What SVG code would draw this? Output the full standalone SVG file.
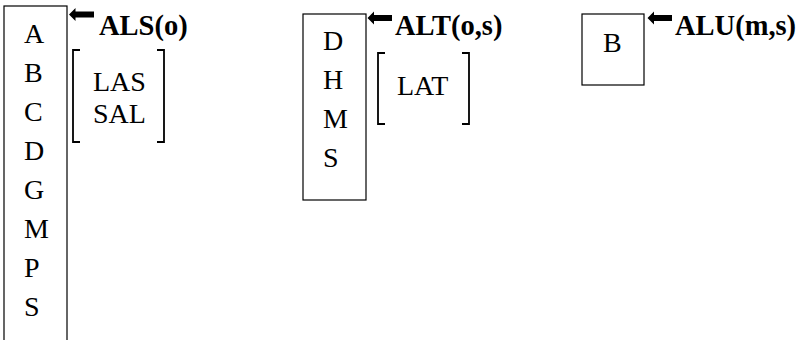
<svg xmlns="http://www.w3.org/2000/svg" width="803" height="340" viewBox="0 0 803 340">
<style>
.box{fill:none;stroke:#000;stroke-width:1.2}
.br{fill:none;stroke:#000;stroke-width:1.8}
text{font-family:'Liberation Serif','Times New Roman',serif;fill:#000}
.t{font-size:28px}
.s{font-size:28px}
.b{font-size:28.5px;font-weight:bold}
.ar{fill:#000}
</style>
<rect width="803" height="340" fill="#fff"/>
<g id="node-als">
<rect class="box" x="4" y="6" width="63" height="345"/>
<text class="t" x="24" y="43">A</text>
<text class="t" x="24" y="82">B</text>
<text class="t" x="24" y="121">C</text>
<text class="t" x="24" y="160">D</text>
<text class="t" x="24" y="199">G</text>
<text class="t" x="24" y="238">M</text>
<text class="t" x="24" y="277">P</text>
<text class="t" x="24" y="316">S</text>
</g>
<g id="label-als">
<text class="b" x="99" y="35">ALS(o)</text>
<path class="br" d="M80,50 H73 V142 H80 M157,50 H164 V142 H157"/>
<text class="s" x="93" y="91">LAS</text>
<text class="s" x="93" y="123">SAL</text>
</g>
<g id="node-alt">
<rect class="box" x="303" y="14" width="63" height="186"/>
<text class="t" x="323" y="50">D</text>
<text class="t" x="323" y="89">H</text>
<text class="t" x="323" y="128">M</text>
<text class="t" x="323" y="167">S</text>
</g>
<g id="label-alt">
<text class="b" x="395" y="35">ALT(o,s)</text>
<path class="br" d="M385,53 H378 V124 H385 M462,53 H469 V124 H462"/>
<text class="s" x="397" y="95">LAT</text>
</g>
<g id="node-alu">
<rect class="box" x="582" y="14" width="62" height="71"/>
<text class="t" x="603" y="52">B</text>
</g>
<g id="label-alu">
<text class="b" x="675" y="35">ALU(m,s)</text>
</g>
<g id="connectors">
<polygon class="ar" points="69,14.5 75.5,8 75.5,11.5 94,11.5 94,17.5 75.5,17.5 75.5,21"/>
<polygon class="ar" points="367.5,18 374,11.5 374,15 392,15 392,21 374,21 374,24.5"/>
<polygon class="ar" points="647.5,18 654,11.5 654,15 672,15 672,21 654,21 654,24.5"/>
</g>
</svg>
